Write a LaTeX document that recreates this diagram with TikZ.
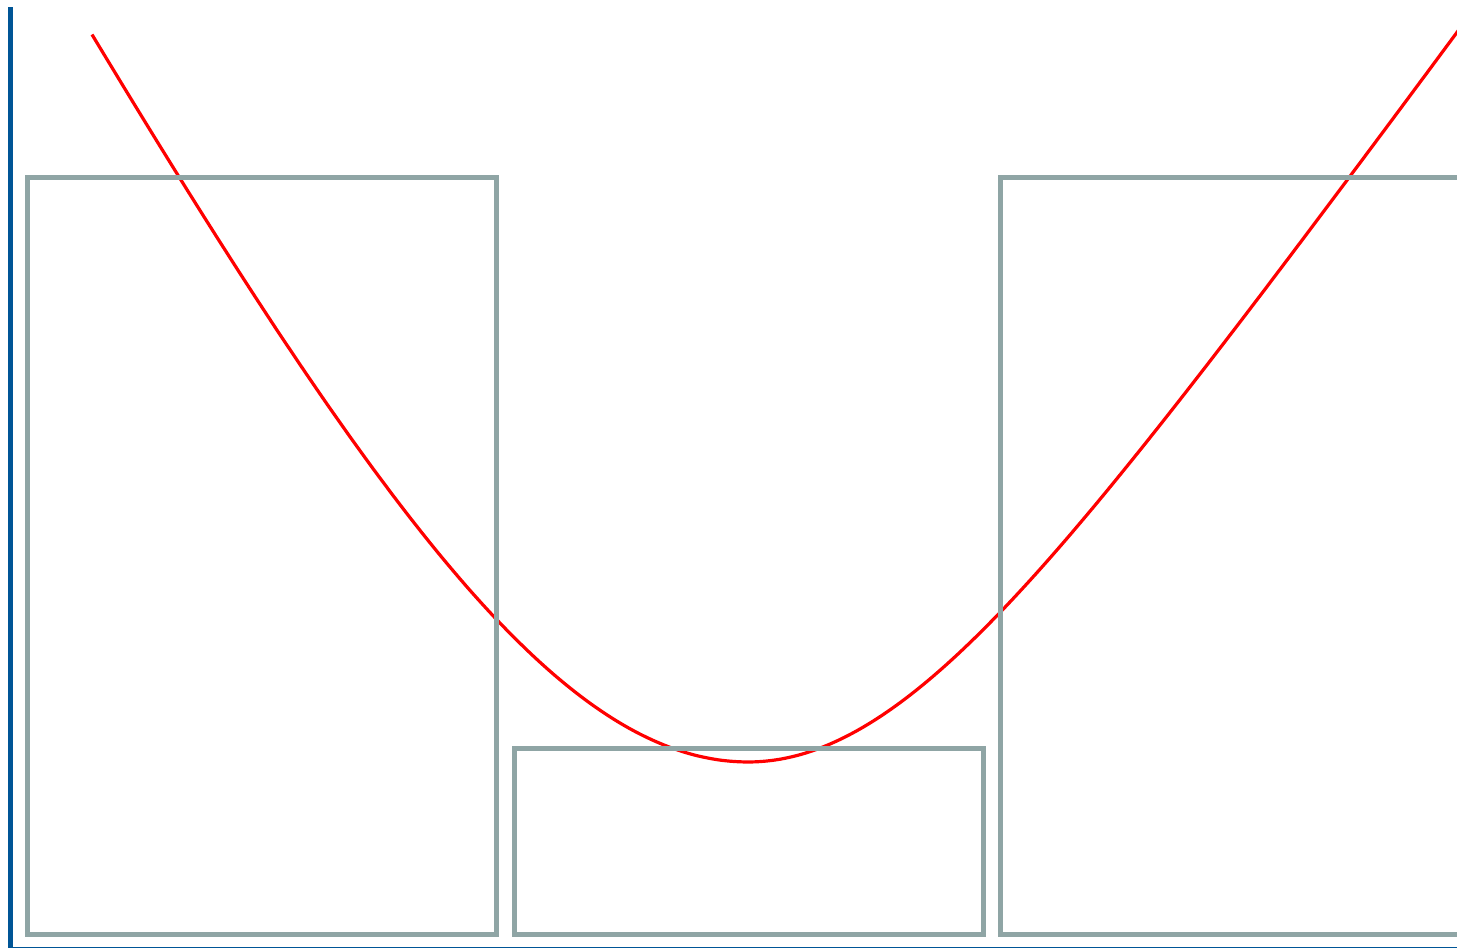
\documentclass[tikz,border=0pt]{standalone}
\definecolor{axisblue}{HTML}{005596}
\definecolor{boxgray}{HTML}{8FA5A5}
\begin{document}
\begin{tikzpicture}[x=0.5pt,y=-0.5pt,
  boxline/.style={draw=boxgray,line width=2.5pt},
  curve/.style={draw=red,line width=1.6pt},
  axisline/.style={draw=axisblue}]
\useasboundingbox (0,0) rectangle (1457,949);
\clip (0,0) rectangle (1457,949);
\draw[curve] plot[domain=92:748,samples=90,smooth,variable=\t] ({\t},{762-630*ln(cosh((748-\t)/360))})
  -- plot[domain=748:1465,samples=90,smooth,variable=\t] ({\t},{762-340*ln(cosh((\t-748)/250))});
\draw[boxline] (27,177) rectangle (496,934);
\draw[boxline] (514,748) rectangle (983,934);
\draw[boxline] (1000,177) rectangle (1480,934);
\coordinate (o) at (10.5,947.5);
\coordinate (top) at (10.5,7);
\coordinate (right) at (1460,947.5);
\draw[axisline,line width=0.9pt] (8,947.5) -- (right);
\draw[axisline,line width=2.5pt] (o) -- (top);
\end{tikzpicture}
\end{document}
